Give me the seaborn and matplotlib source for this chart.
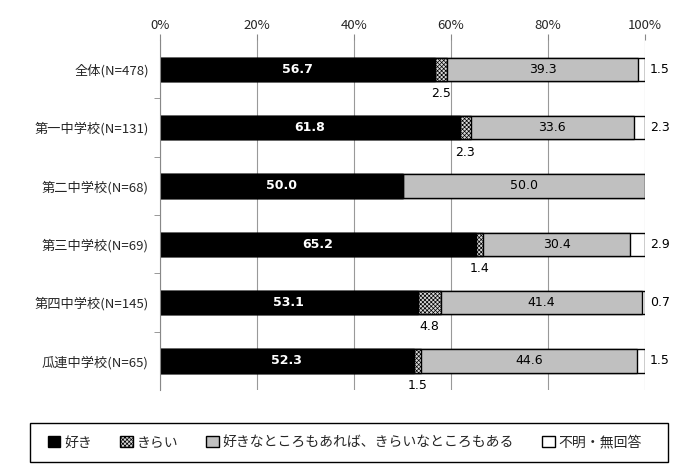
import matplotlib
matplotlib.use('Agg')
from matplotlib import pyplot as plt
from matplotlib.patches import Patch, Rectangle
import numpy as np
import pandas as pd
import seaborn as sns

# Data
schools = ['全体(N=478)', '第一中学校(N=131)', '第二中学校(N=68)',
           '第三中学校(N=69)', '第四中学校(N=145)', '瓜連中学校(N=65)']
like = [56.7, 61.8, 50.0, 65.2, 53.1, 52.3]
dislike = [2.5, 2.3, 0.0, 1.4, 4.8, 1.5]
both = [39.3, 33.6, 50.0, 30.4, 41.4, 44.6]
unknown = [1.5, 2.3, 0.0, 2.9, 0.7, 1.5]
legend_labels = ['好き', 'きらい', '好きなところもあれば、きらいなところもある', '不明・無回答']
xticks = [0, 20, 40, 60, 80, 100]

sns.set_style('white')
plt.rcParams['font.family'] = ['Noto Sans CJK JP', 'DejaVu Sans']
plt.rcParams['hatch.linewidth'] = 0.5

df = pd.DataFrame({'school': schools, 'like': like, 'dislike': dislike,
                   'both': both, 'unknown': unknown})
df['c1'] = df['like']
df['c2'] = df['c1'] + df['dislike']
df['c3'] = df['c2'] + df['both']
df['c4'] = df['c3'] + df['unknown']

fig = plt.figure(figsize=(6.84, 4.75), dpi=100)
ax = fig.add_axes([160 / 684, 1 - 390 / 475, 485 / 684, 350 / 475])

# Stacked bars: draw cumulative totals from the longest down
hatch = 'xxxxxxxx'
layers = [('c4', 'white', ''), ('c3', '#c0c0c0', ''), ('c2', '#d8d8d8', hatch), ('c1', 'black', '')]
for col, color, h in layers:
    sns.barplot(data=df, x=col, y='school', orient='h', color=color, width=0.4,
                edgecolor='black', linewidth=1, saturation=1, ax=ax)
    if h:
        for p in ax.patches[-len(df):]:
            p.set_hatch(h)

ax.set_xlim(0, 100)
ax.set_ylim(5.5, -0.5)
ax.set_xticks(xticks)
ax.set_xticklabels([f'{t}%' for t in xticks], fontsize=9.5)
ax.xaxis.tick_top()
ax.tick_params(axis='x', which='major', length=4, color='#888888', pad=2, top=True)
ax.set_yticks(range(len(schools)))
ax.set_yticklabels(schools, fontsize=9.5)
ax.set_yticks(np.arange(0.5, len(schools) - 1, 1), minor=True)
ax.tick_params(axis='y', which='major', length=0, pad=8)
ax.tick_params(axis='y', which='minor', length=4, left=True, color='#888888')
ax.set_xlabel('')
ax.set_ylabel('')
for s in ['top', 'right', 'bottom']:
    ax.spines[s].set_visible(False)
ax.spines['left'].set_color('#888888')
ax.grid(axis='x', color='#999999', linewidth=0.8)
ax.set_axisbelow(True)

# Value labels
for i, row in df.iterrows():
    if row['like'] > 0:
        ax.text(row['like'] / 2, i, f"{row['like']:.1f}", color='white', ha='center',
                va='center', fontsize=9, fontweight='bold', family='DejaVu Sans')
    if row['dislike'] > 0:
        ax.text(row['c1'] + row['dislike'] / 2, i + 0.42, f"{row['dislike']:.1f}",
                color='black', ha='center', va='center', fontsize=9, family='DejaVu Sans')
    if row['both'] > 0:
        ax.text(row['c2'] + row['both'] / 2, i, f"{row['both']:.1f}", color='black',
                ha='center', va='center', fontsize=9, family='DejaVu Sans')
    if row['unknown'] > 0:
        ax.text(101.0, i, f"{row['unknown']:.1f}", color='black', ha='left',
                va='center', fontsize=9, family='DejaVu Sans')

# Legend in a wide box
fig.patches.append(Rectangle((30 / 684, 13 / 475), 638 / 684, 39 / 475,
                             transform=fig.transFigure, fill=False,
                             edgecolor='black', linewidth=1))
handles = [Patch(facecolor='black', edgecolor='black'),
           Patch(facecolor='#d8d8d8', edgecolor='black', hatch=hatch),
           Patch(facecolor='#c0c0c0', edgecolor='black'),
           Patch(facecolor='white', edgecolor='black')]
fig.legend(handles, legend_labels, ncol=4, loc='center',
           bbox_to_anchor=(345 / 684, 32.5 / 475), frameon=False, fontsize=10,
           handlelength=0.9, handleheight=0.9, handletextpad=0.3, columnspacing=2.0)

fig.savefig('out.png', dpi=100)
